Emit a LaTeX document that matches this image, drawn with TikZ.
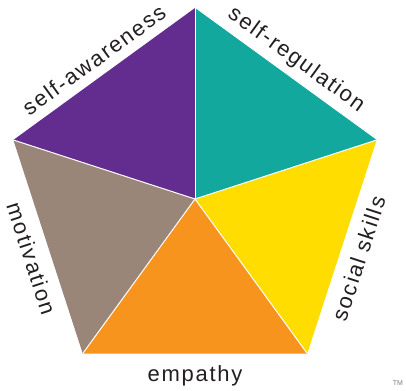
\documentclass[tikz,border=0pt]{standalone}
\usepackage{fontspec}
\setmainfont{Liberation Sans}
\newfontfamily\traitfont[LetterSpace=8]{Liberation Sans}

\definecolor{awareness}{RGB}{99,45,143}
\definecolor{regulation}{RGB}{19,168,158}
\definecolor{social}{RGB}{255,221,0}
\definecolor{empathy}{RGB}{247,148,30}
\definecolor{motivation}{RGB}{154,134,120}
\definecolor{textgray}{RGB}{35,31,32}

\tikzset{
  trait/.style={font=\traitfont\fontsize{22}{22}\selectfont, text=textgray, inner sep=0pt},
  divider/.style={draw=white, line width=1pt}
}

\begin{document}
\begin{tikzpicture}[x=1pt,y=1pt]
   \useasboundingbox (-195,-191) rectangle (211,199);

   \coordinate (C) at (0,0);
   \coordinate (T)  at (90:191);
   \coordinate (R)  at (18:191);
   \coordinate (BR) at (-54:191);
   \coordinate (BL) at (234:191);
   \coordinate (L)  at (162:191);

   \fill[awareness]  (C) -- (L)  -- (T)  -- cycle;
   \fill[regulation] (C) -- (T)  -- (R)  -- cycle;
   \fill[social]     (C) -- (R)  -- (BR) -- cycle;
   \fill[empathy]    (C) -- (BR) -- (BL) -- cycle;
   \fill[motivation] (C) -- (BL) -- (L)  -- cycle;

   \path[divider]
     (C) edge (T)
         edge (R)
         edge (BR)
         edge (BL)
         edge (L);

   \node (aware) [trait, rotate=36]  at (126:172) {self-awareness};
   \node (regul) [trait, rotate=-36] at (54:172)  {self-regulation};
   \node (soc)   [trait, rotate=72]  at (-20:174) {social skills};
   \node (emp)   [trait]             at (-90:177) {empathy};
   \node (motiv) [trait, rotate=-72] at (200:174) {motivation};

   \node (tm) [font=\fontsize{7}{7}\selectfont, text=gray] at (203,-184) {TM};
\end{tikzpicture}
\end{document}
